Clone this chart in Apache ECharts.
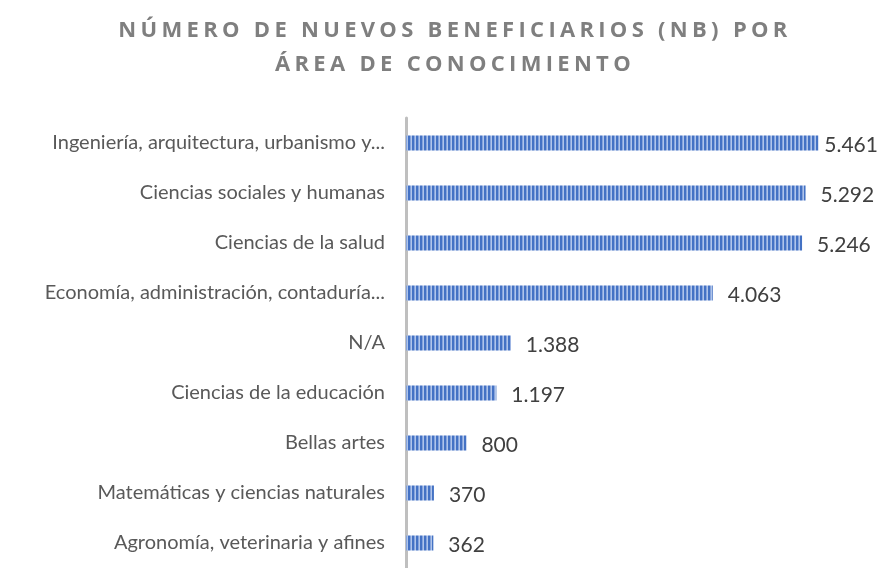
<!doctype html>
<html>
<head>
<meta charset="utf-8">
<title>NB por área de conocimiento</title>
<script src="https://cdn.jsdelivr.net/npm/echarts@6/dist/echarts.min.js"></script>
<style>
  html, body { margin: 0; padding: 0; background: #ffffff; }
  #chart { width: 883px; height: 568px; }
</style>
</head>
<body>
<div id="chart"></div>
<script>
// categories listed top to bottom, as the labels show them
var areas = [
  'Ingeniería, arquitectura, urbanismo y...',
  'Ciencias sociales y humanas',
  'Ciencias de la salud',
  'Economía, administración, contaduría...',
  'N/A',
  'Ciencias de la educación',
  'Bellas artes',
  'Matemáticas y ciencias naturales',
  'Agronomía, veterinaria y afines'
];
var beneficiarios = [5461, 5292, 5246, 4063, 1388, 1197, 800, 370, 362];
var titulo = 'NÚMERO DE NUEVOS BENEFICIARIOS (NB) POR\nÁREA DE CONOCIMIENTO';

// spaced-out lettering for the title font only
var fill0 = CanvasRenderingContext2D.prototype.fillText;
CanvasRenderingContext2D.prototype.fillText = function () {
  this.letterSpacing = this.font.indexOf('Open Sans') > -1 ? '4.3px' : '0px';
  return fill0.apply(this, arguments);
};

// striped fill for the bars
function stripes() {
  var c = document.createElement('canvas');
  c.width = 4; c.height = 4;
  var ctx = c.getContext('2d');
  ctx.fillStyle = '#4472c4'; ctx.fillRect(0, 0, 2, 4);
  ctx.fillStyle = '#86a4dd'; ctx.fillRect(2, 0, 1, 4);
  ctx.fillStyle = '#b0c5ea'; ctx.fillRect(3, 0, 1, 4);
  return c;
}

function miles(v) {
  return String(v).replace(/\B(?=(\d{3})+(?!\d))/g, '.');
}

var barData = beneficiarios.map(function (v, i) {
  // the longest bar's label sits closer to the bar end
  return i === 0 ? { value: v, label: { distance: 6 } } : v;
});

var chart = echarts.init(document.getElementById('chart'));
chart.setOption({
  backgroundColor: '#ffffff',
  animation: false,
  title: {
    text: titulo,
    left: 450,
    top: 9,
    textAlign: 'center',
    textStyle: {
      fontFamily: 'Open Sans',
      fontSize: 22,
      fontWeight: 'bold',
      color: '#7f7f7f',
      lineHeight: 34
    }
  },
  grid: { left: 406, right: 24, top: 118, bottom: -6 },
  xAxis: {
    type: 'value',
    min: 0,
    max: 6000,
    show: false
  },
  yAxis: {
    type: 'category',
    inverse: true,
    data: areas,
    axisLine: { show: true, lineStyle: { color: '#bfbfbf', width: 3 } },
    axisTick: { show: false },
    axisLabel: {
      margin: 21,
      fontFamily: 'Lato',
      fontSize: 20,
      color: '#595959'
    }
  },
  series: [{
    type: 'bar',
    data: barData,
    barWidth: 15,
    itemStyle: { color: { image: stripes(), repeat: 'repeat' } },
    label: {
      show: true,
      position: 'right',
      distance: 15,
      offset: [0, 2],
      fontFamily: 'Lato',
      fontSize: 21,
      color: '#404040',
      formatter: function (p) { return miles(p.value); }
    }
  }]
});
</script>
</body>
</html>
